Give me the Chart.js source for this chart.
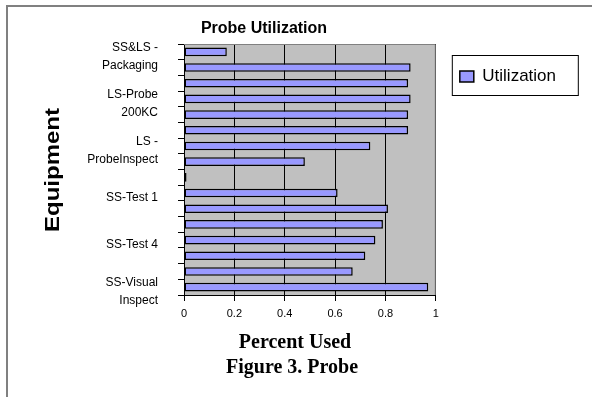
<!DOCTYPE html>
<html>
<head>
<meta charset="utf-8">
<script src="https://cdn.jsdelivr.net/npm/chart.js@4.4.0/dist/chart.umd.min.js"></script>
<style>
  html, body { margin: 0; padding: 0; background: #fff; }
</style>
</head>
<body>
<canvas id="probe" width="592" height="397"></canvas>
<script>
// categories top to bottom, only every third name is printed on the chart
const equipment = [
  ["SS&LS -", "Packaging"], "", "",
  ["LS-Probe", "200KC"], "", "",
  ["LS -", "ProbeInspect"], "", "",
  "SS-Test 1", "", "",
  "SS-Test 4", "", "",
  ["SS-Visual", "Inspect"],
];
const utilization = [0.17, 0.9, 0.89, 0.9, 0.89, 0.89, 0.74, 0.48, 0.01, 0.61, 0.81, 0.79, 0.76, 0.72, 0.67, 0.97];
const percentTicks = [0, 0.2, 0.4, 0.6, 0.8, 1];

const chartTitle = "Probe Utilization";
const xTitle = ["Percent Used", "Figure 3. Probe"];
const yTitle = "Equipment";

// background, plot fill, outer frame, legend box and the free text
const excelLook = {
  id: "excelLook",
  beforeDraw(chart) {
    const { ctx, chartArea: a } = chart;
    ctx.save();
    ctx.fillStyle = "#ffffff";
    ctx.fillRect(0, 0, chart.width, chart.height);
    ctx.fillStyle = "#c0c0c0";
    ctx.fillRect(a.left, a.top, a.right - a.left, a.bottom - a.top);
    ctx.strokeStyle = "#808080";
    ctx.lineWidth = 2;
    ctx.beginPath();
    ctx.moveTo(7, chart.height);
    ctx.lineTo(7, 6);
    ctx.lineTo(chart.width, 6);
    ctx.stroke();
    ctx.restore();
  },
  afterDraw(chart) {
    const { ctx, chartArea: a, legend } = chart;
    ctx.save();
    // plot border, top and right
    ctx.strokeStyle = "#808080";
    ctx.lineWidth = 1;
    ctx.beginPath();
    ctx.moveTo(a.left, a.top + 0.5);
    ctx.lineTo(a.right - 0.5, a.top + 0.5);
    ctx.lineTo(a.right - 0.5, a.bottom);
    ctx.stroke();

    // legend frame
    ctx.strokeStyle = "#000";
    ctx.strokeRect(legend.left + 16.5, legend.top + 11.5, 126, 40);

    ctx.fillStyle = "#000";
    ctx.textAlign = "center";
    ctx.textBaseline = "middle";
    ctx.font = "bold 16px 'Liberation Sans', Arial";
    ctx.fillText(chartTitle, 264, 29);

    ctx.font = "bold 20px 'Liberation Serif', 'Times New Roman'";
    ctx.fillText(xTitle[0], 295, 343);
    ctx.fillText(xTitle[1], 292, 368);

    ctx.translate(53, 170);
    ctx.rotate(-Math.PI / 2);
    ctx.scale(1.2, 1);
    ctx.font = "bold 20px 'Liberation Sans', Arial";
    ctx.fillText(yTitle, 0, 0);
    ctx.restore();
  },
};

const probeConfig = {
  type: "bar",
  data: {
    labels: equipment,
    datasets: [
      {
        label: "Utilization",
        data: utilization,
        backgroundColor: "#9999ff",
        borderColor: "#000000",
        borderWidth: 1.5,
        borderSkipped: false,
        categoryPercentage: 1,
        barPercentage: 0.55,
      },
    ],
  },
  options: {
    indexAxis: "y",
    responsive: false,
    animation: false,
    devicePixelRatio: 1,
    layout: { padding: { left: 0, right: 26, top: 44, bottom: 0 } },
    scales: {
      x: {
        type: "linear",
        min: 0,
        max: 1,
        afterBuildTicks: (scale) => {
          scale.ticks = percentTicks.map((v) => ({ value: v }));
        },
        afterFit: (scale) => {
          scale.height = 102;
        },
        grid: { color: "#000000", lineWidth: 1, tickLength: 6 },
        border: { color: "#000000", width: 1 },
        ticks: {
          color: "#000",
          padding: 6,
          maxRotation: 0,
          font: { family: "'Liberation Sans', Arial", size: 11 },
          callback: (v) => String(v),
        },
      },
      y: {
        afterFit: (scale) => {
          scale.width = 184;
        },
        grid: { drawOnChartArea: false, color: "#000000", tickLength: 6 },
        border: { color: "#000000", width: 1 },
        ticks: {
          autoSkip: false,
          color: "#000",
          padding: 20,
          labelOffset: 5,
          font: { family: "'Liberation Sans', Arial", size: 12, lineHeight: 1.5 },
        },
      },
    },
    plugins: {
      title: { display: false },
      tooltip: { enabled: false },
      legend: {
        display: true,
        position: "right",
        align: "start",
        labels: {
          color: "#000",
          boxWidth: 14,
          boxHeight: 11,
          padding: 24,
          font: { family: "'Liberation Sans', Arial", size: 17 },
        },
      },
    },
  },
  plugins: [excelLook],
};

const probeCtx = document.getElementById("probe");
window.probeChart = new Chart(probeCtx, probeConfig);
</script>
</body>
</html>
